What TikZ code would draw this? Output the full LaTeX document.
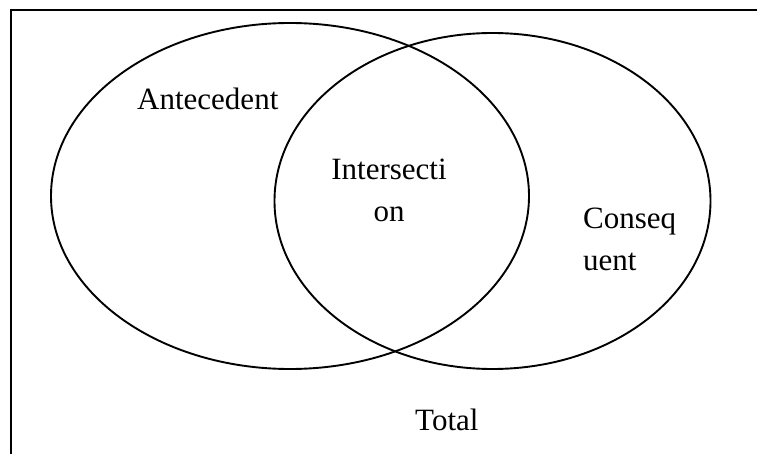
\documentclass[tikz,border=0pt]{standalone}
\usepackage{fontspec}
\setmainfont{Liberation Serif}
\begin{document}
\begin{tikzpicture}[x=1pt,y=-1pt,
  line/.style={line width=2pt,black},
  lbl/.style={inner sep=0pt,font=\fontsize{31}{42}\selectfont}]
\useasboundingbox (0,0) rectangle (757,454);
\draw[line] (757,10.5) coordinate (tr) -- (11,10.5) coordinate (tl) -- (11,454) coordinate (bl);
\draw[line, line width=1.9pt] (290,196) ellipse [x radius=239, y radius=173];
\draw[line, line width=1.9pt] (492.5,201) ellipse [x radius=218, y radius=168];
\node[lbl,anchor=base west] (ante) at (137,110) {Antecedent};
\node[lbl,anchor=base,align=center] (inter) at (389,222) {Intersecti\\on};
\node[lbl,anchor=base west,align=left] (cons) at (583,270) {Conseq\\uent};
\node[lbl,anchor=base west] (total) at (415,430) {Total};
\end{tikzpicture}
\end{document}
